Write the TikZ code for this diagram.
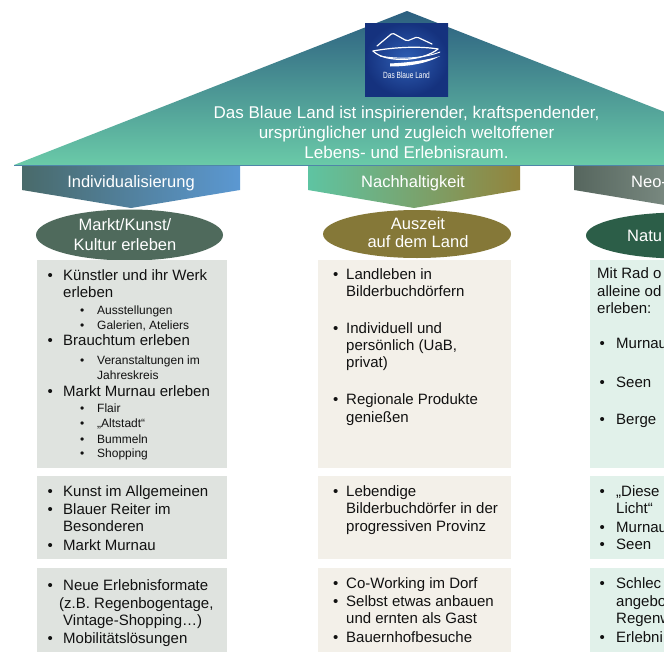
\documentclass[tikz,border=0pt]{standalone}
\usepackage{fontspec}
\setmainfont{Liberation Sans}
\usetikzlibrary{shapes.geometric}
\definecolor{roofTop}{HTML}{2C5F80}
\definecolor{roofMid}{HTML}{3F8F97}
\definecolor{roofBot}{HTML}{6ACAA8}
\definecolor{roofLine}{HTML}{4E86A8}
\definecolor{logoIn}{HTML}{2F5FB5}
\definecolor{logoOut}{HTML}{15327E}
\definecolor{bIndL}{HTML}{496A6A}
\definecolor{bIndR}{HTML}{5B98D2}
\definecolor{bNacL}{HTML}{5EC4A2}
\definecolor{bNacR}{HTML}{93843C}
\definecolor{bNeoL}{HTML}{56665E}
\definecolor{bNeoR}{HTML}{A8B8AE}
\definecolor{ellA}{HTML}{4F6A5C}
\definecolor{ellB}{HTML}{857838}
\definecolor{ellC}{HTML}{2C5E48}
\definecolor{boxA}{HTML}{DFE3DF}
\definecolor{boxB}{HTML}{F3F0E9}
\definecolor{boxC}{HTML}{E1F1EA}
\definecolor{txtc}{HTML}{111111}
\newcounter{nn}
\newcommand\mytx[4][tx]{\stepcounter{nn}\node[#1] (n\arabic{nn}) at (#2,#3) {#4};}
\newcommand\mainbul[4]{\mytx{#1}{#3}{•}\mytx{#2}{#3}{#4}}
\newcommand\subbul[4]{\mytx[sx]{#1}{#3}{•}\mytx[sx]{#2}{#3}{#4}}
\tikzset{
  tx/.style={inner sep=0pt, anchor=base west, font=\fontsize{15}{18}\selectfont, text=txtc},
  sx/.style={tx, font=\fontsize{12}{14}\selectfont},
  wt/.style={inner sep=0pt, anchor=base, font=\fontsize{16.5}{19}\selectfont, text=white},
  rt/.style={wt, font=\fontsize{17}{20}\selectfont},
  wtl/.style={wt, anchor=base west},
  ellnode/.style={ellipse, inner sep=0pt, draw=none},
  logoline/.style={white, line width=1.2pt, line cap=round, line join=round}
}
\begin{document}
\begin{tikzpicture}[x=1pt,y=-1pt]
\useasboundingbox (0,0) rectangle (664,664);
\clip (0,0) rectangle (664,664);
\fill[white] (0,0) rectangle (664,664);
% roof
\shade[top color=roofTop, middle color=roofMid, bottom color=roofBot] (14,165) -- (407,11) -- (800,165) -- cycle;
\draw[roofLine, line width=0.8pt] (14,165) -- (800,165);
% logo
\shade[inner color=logoIn, outer color=logoOut] (365,23) rectangle (448,96);
\draw[logoline, rounded corners=1.5pt] (377,46) -- (392.5,33) -- (407,41) -- (417,37) -- (432,44);
\draw[logoline] (373,51) .. controls (395,47) and (420,46) .. (438,49);
\draw[logoline] (373,51) .. controls (385,63) and (422,62) .. (438,49);
\draw[logoline, line width=0.9pt] (380,56) .. controls (400,60) and (425,58) .. (440,52);
\fill[white] (390,63.5) .. controls (410,62.5) and (428,60) .. (440,56) .. controls (428,63) and (410,66.5) .. (390,66.5) -- cycle;
\node[inner sep=0pt, anchor=base, text=white, font=\fontsize{9}{10}\selectfont] (logotxt) at (406.5,78) {\scalebox{0.73}[1]{Das Blaue Land}};
% roof text
\node[rt] (r1) at (406.5,118.5) {Das Blaue Land ist inspirierender, kraftspendender,};
\node[rt] (r2) at (406.5,138.5) {ursprünglicher und zugleich weltoffener};
\node[rt] (r3) at (406.5,158.5) {Lebens- und Erlebnisraum.};
% banners
\shade[left color=bIndL, right color=bIndR] (22,166) -- (240,166) -- (240,190) -- (131,208) -- (22,190) -- cycle;
\shade[left color=bNacL, right color=bNacR] (308,166) -- (520,166) -- (520,190) -- (414,208) -- (308,190) -- cycle;
\shade[left color=bNeoL, right color=bNeoR] (574,166) -- (792,166) -- (792,190) -- (683,208) -- (574,190) -- cycle;
\node[wt] (bi) at (131,187) {Individualisierung};
\node[wt] (bn) at (413,187) {Nachhaltigkeit};
\node[wtl] (bo) at (631,187) {Neo-};
% ellipses
\node[ellnode, fill=ellA, minimum width=187pt, minimum height=51pt] (e1) at (129.5,235) {};
\node[ellnode, fill=ellB, minimum width=188pt, minimum height=48pt] (e2) at (417,234) {};
\node[ellnode, fill=ellC, minimum width=188pt, minimum height=46pt] (e3) at (680,235.5) {};
\node[wt] (e1a) at (125,230) {Markt/Kunst/};
\node[wt] (e1b) at (125,250) {Kultur erleben};
\node[wt] (e2a) at (418,229) {Auszeit};
\node[wt] (e2b) at (418,247.5) {auf dem Land};
\node[wtl] (e3a) at (627,241) {Natu};
% boxes
\fill[boxA] (37,260) rectangle (227,468);
\fill[boxA] (37,476) rectangle (227,559);
\fill[boxA] (37,568) rectangle (227,652);
\fill[boxB] (318,260) rectangle (511,468);
\fill[boxB] (318,476) rectangle (511,559);
\fill[boxB] (318,568) rectangle (511,652);
\fill[boxC] (590,260) rectangle (700,468);
\fill[boxC] (590,476) rectangle (700,559);
\fill[boxC] (590,568) rectangle (700,652);
% column 1
\mainbul{47.5}{63}{280.5}{Künstler und ihr Werk}
\mytx{63}{297}{erleben}
\subbul{80}{97}{314}{Ausstellungen}
\subbul{80}{97}{329}{Galerien, Ateliers}
\mainbul{47.5}{63}{345}{Brauchtum erleben}
\subbul{80}{97}{364}{Veranstaltungen im}
\mytx[sx]{97}{379}{Jahreskreis}
\mainbul{47.5}{63}{396.5}{Markt Murnau erleben}
\subbul{80}{97}{412}{Flair}
\subbul{80}{97}{427}{„Altstadt“}
\subbul{80}{97}{443}{Bummeln}
\subbul{80}{97}{457.5}{Shopping}
\mainbul{47.5}{63}{496}{Kunst im Allgemeinen}
\mainbul{47.5}{63}{514}{Blauer Reiter im}
\mytx{63}{531}{Besonderen}
\mainbul{47.5}{63}{550}{Markt Murnau}
\mainbul{47.5}{63}{590}{Neue Erlebnisformate}
\mytx{59}{608}{(z.B. Regenbogentage,}
\mytx{63}{625}{Vintage-Shopping…)}
\mainbul{47.5}{63}{643}{Mobilitätslösungen}
% column 2
\mainbul{333}{346}{279}{Landleben in}
\mytx{346}{296.5}{Bilderbuchdörfern}
\mainbul{333}{346}{333}{Individuell und}
\mytx{346}{350}{persönlich (UaB,}
\mytx{346}{367}{privat)}
\mainbul{333}{346}{404}{Regionale Produkte}
\mytx{346}{422}{genießen}
\mainbul{333}{346}{496}{Lebendige}
\mytx{346}{513}{Bilderbuchdörfer in der}
\mytx{346}{531}{progressiven Provinz}
\mainbul{333}{346}{588}{Co-Working im Dorf}
\mainbul{333}{346}{606}{Selbst etwas anbauen}
\mytx{346}{623}{und ernten als Gast}
\mainbul{333}{346}{642}{Bauernhofbesuche}
% column 3
\mytx{597}{278.5}{Mit Rad o}
\mytx{597}{296}{alleine od}
\mytx{597}{313}{erleben:}
\mainbul{599.5}{616}{348}{Murnau}
\mainbul{599.5}{616}{387}{Seen}
\mainbul{599.5}{616}{424}{Berge}
\mainbul{599.5}{616}{496}{„Diese}
\mytx{616}{513}{Licht“}
\mainbul{599.5}{616}{532}{Murnau}
\mainbul{599.5}{616}{549}{Seen}
\mainbul{599.5}{616}{588}{Schlec}
\mytx{616}{606}{angebo}
\mytx{616}{623}{Regenw}
\mainbul{599.5}{616}{642}{Erlebni}
\end{tikzpicture}
\end{document}
